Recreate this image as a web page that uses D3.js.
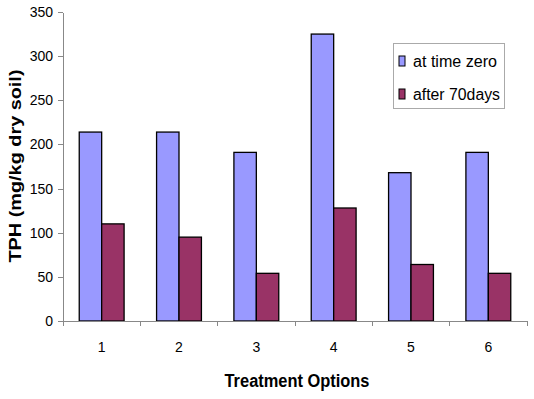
<!DOCTYPE html>
<html>
<head>
    <meta charset="utf-8">
    <script src="https://cdn.jsdelivr.net/npm/d3@7"></script>
    <style>
        body { margin: 0; background: #fff; }
        .chart text { font-family: "Liberation Sans", Arial, sans-serif; fill: #000; }
        .axis path, .axis line { stroke: #888; shape-rendering: crispEdges; }
    </style>
</head>
<body>
<svg class="chart"></svg>
<script type="text/javascript">
    var categories = ["1", "2", "3", "4", "5", "6"];
    var seriesNames = ["at time zero", "after 70days"];
    var timeZero = [214, 214, 191, 325, 168, 191];
    var after70 = [110, 95, 54, 128, 64, 54];
    var yTicks = [0, 50, 100, 150, 200, 250, 300, 350];
    var colors = ["#9999ff", "#993366"];

    var width = 534, height = 399;
    var plotLeft = 63, plotRight = 527, plotTop = 12, plotBottom = 321;

    var chart = d3.select(".chart").attr("width", width).attr("height", height);

    var scaleX = d3.scaleBand()
        .domain(categories)
        .range([plotLeft, plotRight])
        .paddingInner(0.42)
        .paddingOuter(0.21);

    var scaleSeries = d3.scaleBand()
        .domain([0, 1])
        .range([0, scaleX.bandwidth()]);

    var scaleY = d3.scaleLinear()
        .domain([0, 350])
        .range([plotBottom, plotTop]);

    var rows = categories.map(function (c, i) {
        return { cat: c, values: [timeZero[i], after70[i]] };
    });

    // bars
    var groups = chart.selectAll("g.grp")
        .data(rows)
        .enter().append("g")
        .attr("class", "grp")
        .attr("transform", function (d) { return "translate(" + scaleX(d.cat) + ",0)"; });

    groups.selectAll("rect")
        .data(function (d) { return d.values; })
        .enter().append("rect")
        .attr("x", function (d, i) { return scaleSeries(i); })
        .attr("y", function (d) { return scaleY(d); })
        .attr("width", scaleSeries.bandwidth())
        .attr("height", function (d) { return plotBottom - scaleY(d); })
        .attr("fill", function (d, i) { return colors[i]; })
        .attr("stroke", "#000")
        .attr("stroke-width", 1.3);

    // Y axis
    chart.append("g")
        .attr("class", "axis")
        .attr("transform", "translate(" + plotLeft + ",0)")
        .call(d3.axisLeft(scaleY).tickValues(yTicks).tickSize(5).tickSizeOuter(0).tickPadding(5))
        .selectAll("text")
        .attr("font-size", 14)
        .attr("font-family", "Liberation Sans, Arial, sans-serif");

    // X axis with ticks at category boundaries
    var step = scaleX.step();
    var xAxis = chart.append("g")
        .attr("class", "axis")
        .attr("transform", "translate(0," + plotBottom + ")");
    xAxis.append("line")
        .attr("x1", plotLeft).attr("x2", plotRight)
        .attr("y1", 0).attr("y2", 0);
    xAxis.selectAll("line.tk")
        .data(d3.range(categories.length + 1))
        .enter().append("line")
        .attr("class", "tk")
        .attr("x1", function (i) { return plotLeft + i * step; })
        .attr("x2", function (i) { return plotLeft + i * step; })
        .attr("y1", 0).attr("y2", 5);
    xAxis.selectAll("text")
        .data(categories)
        .enter().append("text")
        .attr("x", function (d) { return scaleX(d) + scaleX.bandwidth() / 2; })
        .attr("y", 31)
        .attr("text-anchor", "middle")
        .attr("font-size", 14)
        .text(function (d) { return d; });

    // titles
    chart.append("text")
        .attr("x", 297).attr("y", 387)
        .attr("text-anchor", "middle")
        .attr("font-size", 18).attr("font-weight", "bold")
        .attr("textLength", 145).attr("lengthAdjust", "spacingAndGlyphs")
        .text("Treatment Options");

    chart.append("text")
        .attr("transform", "translate(21,166) rotate(-90)")
        .attr("text-anchor", "middle")
        .attr("font-size", 17).attr("font-weight", "bold")
        .attr("textLength", 193).attr("lengthAdjust", "spacingAndGlyphs")
        .text("TPH (mg/kg dry soil)");

    // legend
    var legend = chart.append("g");
    legend.append("rect")
        .attr("x", 393.5).attr("y", 43.5)
        .attr("width", 111).attr("height", 65)
        .attr("fill", "#fff").attr("stroke", "#aaa");
    seriesNames.forEach(function (name, i) {
        legend.append("rect")
            .attr("x", 399).attr("y", 56 + i * 33)
            .attr("width", 6).attr("height", 10)
            .attr("fill", colors[i]).attr("stroke", "#000").attr("stroke-width", 1);
        legend.append("text")
            .attr("x", 413).attr("y", 67 + i * 33)
            .attr("font-size", 16)
            .attr("textLength", name === "at time zero" ? 84 : 87)
            .attr("lengthAdjust", "spacingAndGlyphs")
            .text(name);
    });
</script>
</body>
</html>
